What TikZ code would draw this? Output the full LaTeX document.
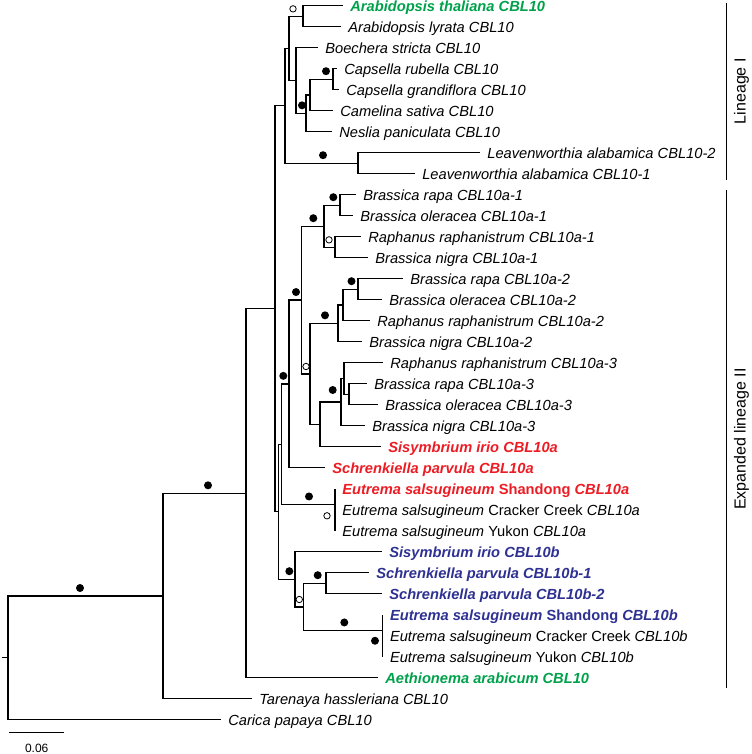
\documentclass[tikz,border=0pt]{standalone}
\usepackage{fontspec}
\setmainfont{Liberation Sans}
\usetikzlibrary{calc}
\definecolor{agreen}{HTML}{00A14B}
\definecolor{ared}{HTML}{ED1C24}
\definecolor{ablue}{HTML}{2E3192}
\newcommand{\tipfont}{\fontsize{11}{13}\selectfont}

\tikzset{
  tip/.style={anchor=base west,inner sep=0pt,xshift=5pt,yshift=-4.2pt,font=\tipfont\itshape},
  tipb/.style={tip,font=\tipfont\bfseries\itshape},
  clade/.style={rotate=90,inner sep=0pt,font=\fontsize{12}{14}\selectfont}
}

\begin{document}
\begin{tikzpicture}[x=0.75pt,y=-15.75pt,line width=1pt]
\useasboundingbox (0,-0.2714) rectangle (751,35.633);

% internal nodes (x in px, y in leaf rows)
\coordinate (nAra) at (303,0.5);
\coordinate (nCap) at (333,3.5);
\coordinate (nCam) at (310,4.25);
\coordinate (nNes) at (306,5.125);
\coordinate (nBoe) at (296,3.5625);
\coordinate (nW) at (289,2.03);
\coordinate (nLea) at (358,7.5);
\coordinate (nL1) at (285,4.766);
\coordinate (nRO1) at (340,9.5);
\coordinate (nRN1) at (335,11.5);
\coordinate (nA1) at (324,10.5);
\coordinate (nRO2) at (358,13.5);
\coordinate (nR2) at (343,14.25);
\coordinate (nA2) at (338,15.125);
\coordinate (nRO3) at (349,18.5);
\coordinate (nR3) at (344,17.75);
\coordinate (nA3) at (341,18.875);
\coordinate (nSA) at (320,19.9375);
\coordinate (nMid) at (310,17.53);
\coordinate (nAA) at (301.7,14.016);
\coordinate (nSch) at (289,18.008);
\coordinate (nCYa) at (335,24.5);
\coordinate (nEA) at (335,23.75);
\coordinate (nEa) at (281.5,20.88);
\coordinate (nSB1) at (326,27.5);
\coordinate (nCYb) at (382.7,30.5);
\coordinate (nEB) at (382.7,29.75);
\coordinate (nSB) at (303.3,28.625);
\coordinate (nB2) at (295,27.31);
\coordinate (nL2) at (278.5,24.1);
\coordinate (nC) at (275,14.43);
\coordinate (nB) at (246,23.22);
\coordinate (nA) at (163,28.11);
\coordinate (root) at (8,31.05);
\coordinate (base) at (2,31.05);

% tips
\path (343,0) coordinate (tha) node[tipb,agreen] (thaT) {Arabidopsis thaliana CBL10};
\path (341,1) coordinate (lyr) node[tip] (lyrT) {Arabidopsis lyrata CBL10};
\path (318,2) coordinate (boe) node[tip] (boeT) {Boechera stricta CBL10};
\path (337,3) coordinate (rub) node[tip] (rubT) {Capsella rubella CBL10};
\path (339,4) coordinate (gra) node[tip] (graT) {Capsella grandiflora CBL10};
\path (333,5) coordinate (cam) node[tip] (camT) {Camelina sativa CBL10};
\path (332,6) coordinate (nes) node[tip] (nesT) {Neslia paniculata CBL10};
\path (480,7) coordinate (le2) node[tip] (le2T) {Leavenworthia alabamica CBL10-2};
\path (415,8) coordinate (le1) node[tip] (le1T) {Leavenworthia alabamica CBL10-1};
\path (356,9) coordinate (ra1) node[tip] (ra1T) {Brassica rapa CBL10a-1};
\path (353,10) coordinate (ol1) node[tip] (ol1T) {Brassica oleracea CBL10a-1};
\path (361,11) coordinate (rp1) node[tip] (rp1T) {Raphanus raphanistrum CBL10a-1};
\path (368,12) coordinate (ni1) node[tip] (ni1T) {Brassica nigra CBL10a-1};
\path (403,13) coordinate (ra2) node[tip] (ra2T) {Brassica rapa CBL10a-2};
\path (382,14) coordinate (ol2) node[tip] (ol2T) {Brassica oleracea CBL10a-2};
\path (370,15) coordinate (rp2) node[tip] (rp2T) {Raphanus raphanistrum CBL10a-2};
\path (362,16) coordinate (ni2) node[tip] (ni2T) {Brassica nigra CBL10a-2};
\path (383,17) coordinate (rp3) node[tip] (rp3T) {Raphanus raphanistrum CBL10a-3};
\path (367,18) coordinate (ra3) node[tip] (ra3T) {Brassica rapa CBL10a-3};
\path (378,19) coordinate (ol3) node[tip] (ol3T) {Brassica oleracea CBL10a-3};
\path (365,20) coordinate (ni3) node[tip] (ni3T) {Brassica nigra CBL10a-3};
\path (381,21) coordinate (sia) node[tipb,ared] (siaT) {Sisymbrium irio CBL10a};
\path (325,22) coordinate (sca) node[tipb,ared] (scaT) {Schrenkiella parvula CBL10a};
\path (335,23) coordinate (sha) node[tipb,ared] (shaT) {Eutrema salsugineum \textup{Shandong} CBL10a};
\path (335,24) coordinate (cca) node[tip] (ccaT) {Eutrema salsugineum \textup{Cracker Creek} CBL10a};
\path (335,25) coordinate (yua) node[tip] (yuaT) {Eutrema salsugineum \textup{Yukon} CBL10a};
\path (382,26) coordinate (sib) node[tipb,ablue] (sibT) {Sisymbrium irio CBL10b};
\path (369,27) coordinate (sb1) node[tipb,ablue] (sb1T) {Schrenkiella parvula CBL10b-1};
\path (382,28) coordinate (sb2) node[tipb,ablue] (sb2T) {Schrenkiella parvula CBL10b-2};
\path (382.7,29) coordinate (shb) node[tipb,ablue] (shbT) {Eutrema salsugineum \textup{Shandong} CBL10b};
\path (382.7,30) coordinate (ccb) node[tip] (ccbT) {Eutrema salsugineum \textup{Cracker Creek} CBL10b};
\path (382.7,31) coordinate (yub) node[tip] (yubT) {Eutrema salsugineum \textup{Yukon} CBL10b};
\path (378,32) coordinate (aet) node[tipb,agreen] (aetT) {Aethionema arabicum CBL10};
\path (252,33) coordinate (tar) node[tip] (tarT) {Tarenaya hassleriana CBL10};
\path (221,34) coordinate (car) node[tip] (carT) {Carica papaya CBL10};

% branches
\foreach \p/\c in {nAra/tha,nAra/lyr,nCap/rub,nCap/gra,nCam/nCap,nCam/cam,
  nNes/nCam,nNes/nes,nBoe/boe,nBoe/nNes,nW/nAra,nW/nBoe,nLea/le2,nLea/le1,
  nL1/nW,nL1/nLea,nRO1/ra1,nRO1/ol1,nRN1/rp1,nRN1/ni1,nA1/nRO1,nA1/nRN1,
  nRO2/ra2,nRO2/ol2,nR2/nRO2,nR2/rp2,nA2/nR2,nA2/ni2,nRO3/ra3,nRO3/ol3,
  nR3/rp3,nR3/nRO3,nA3/nR3,nA3/ni3,nSA/nA3,nSA/sia,nMid/nA2,nMid/nSA,
  nAA/nA1,nAA/nMid,nSch/nAA,nSch/sca,nCYa/cca,nCYa/yua,nEA/sha,nEA/nCYa,
  nEa/nSch,nEa/nEA,nSB1/sb1,nSB1/sb2,nCYb/ccb,nCYb/yub,nEB/shb,nEB/nCYb,
  nSB/nSB1,nSB/nEB,nB2/sib,nB2/nSB,nL2/nEa,nL2/nB2,nC/nL1,nC/nL2,
  nB/nC,nB/aet,nA/nB,nA/tar,root/nA,root/car}
  \draw (\p) |- (\c);
\draw (base) -- (root);

% support
\foreach \x/\y in {326/3.5,302/5.125,323/7.5,333.3/9.5,313.3/10.5,296/14.016,
  351.5/13.5,325/15.125,283.3/18.008,309/23.75,289.3/27.31,317.7/27.5,
  344.3/29.75,208/23.22,80/28.11}
  \fill ([yshift=6pt]\x,\y) circle (3pt);
\fill (332.7,18.3) circle (3pt);
\fill (375,30.24) circle (3pt);
\foreach \x/\y in {293/0.5,329/11.5,306/17.53,299.3/28.625}
  \draw[line width=0.6pt,fill=white] ([yshift=5.5pt]\x,\y) circle (2.4pt);
\draw[line width=0.6pt,fill=white] (327,24.29) circle (2.4pt);

% clades
\coordinate (i1) at (726.7,-0.15);
\coordinate (i2) at (726.7,8.3);
\coordinate (e1) at (726.7,8.78);
\coordinate (e2) at (726.7,32.5);
\draw (i1) -- (i2);
\draw (e1) -- (e2);
\node[clade] (linI) at (741.5,4.07) {Lineage I};
\node[clade] (linII) at (741.5,20.64) {Expanded lineage II};

% scale
\coordinate (sc1) at (9.3,34.62);
\coordinate (sc2) at (64.3,34.62);
\draw (sc1) -- (sc2);
\node[font=\fontsize{9}{11}\selectfont,inner sep=0pt] (scT) at (36.7,35.35) {0.06};
\end{tikzpicture}
\end{document}
